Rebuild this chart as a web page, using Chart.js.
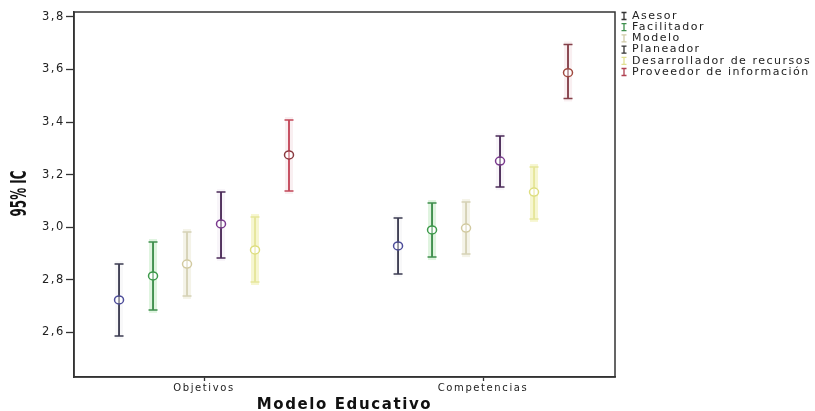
<!DOCTYPE html>
<html>
<head>
<meta charset="utf-8">
<script src="https://cdn.jsdelivr.net/npm/chart.js@4/dist/chart.umd.min.js"></script>
<style>
  html, body { margin: 0; padding: 0; background: #fff; }
  #wrap { width: 815px; height: 411px; }
</style>
</head>
<body>
<div id="wrap"><canvas id="ic95"></canvas></div>
<script>
  const categories = ['Objetivos', 'Competencias'];
  const series = ['Asesor', 'Facilitador', 'Modelo', 'Planeador', 'Desarrollador de recursos', 'Proveedor de información'];
  // media e IC 95% por serie: [Objetivos, Competencias]
  const medias = [
    [2.724, 2.929],
    [2.815, 2.990],
    [2.860, 2.997],
    [3.013, 3.252],
    [2.914, 3.134],
    [3.275, 3.588]
  ];
  const limInf = [
    [2.587, 2.822],
    [2.686, 2.887],
    [2.739, 2.898],
    [2.883, 3.153],
    [2.792, 3.032],
    [3.138, 3.490]
  ];
  const limSup = [
    [2.860, 3.035],
    [2.944, 3.092],
    [2.982, 3.096],
    [3.134, 3.347],
    [3.039, 3.229],
    [3.408, 3.695]
  ];
  const yTicks = [2.6, 2.8, 3.0, 3.2, 3.4, 3.6, 3.8];

  const lineColors = [
    ['#3d3d52', '#3d3d52'],
    ['#3f8f4d', '#3f8f4d'],
    ['#d6d2b6', '#d6d2b6'],
    ['#4b2b58', '#4b2b58'],
    ['#e6e69a', '#e6e69a'],
    ['#c4485a', '#85404a']
  ];
  const circleColors = [
    ['#4d4d9a', '#4d4d9a'],
    ['#3c9a4a', '#3c9a4a'],
    ['#d2caa0', '#d2caa0'],
    ['#7a3a8e', '#7a3a8e'],
    ['#dede80', '#dede80'],
    ['#8a3a40', '#a04a40']
  ];
  const haloColors = [
    'rgba(205,205,215,0.15)',
    'rgba(150,220,150,0.3)',
    'rgba(220,215,180,0.3)',
    'rgba(205,185,215,0.15)',
    'rgba(235,235,150,0.45)',
    'rgba(230,190,200,0.25)'
  ];
  const legendColors = ['#333', '#3f8f4d', '#cfcaa8', '#333', '#e0e090', '#b04050'];

  const errorBars = {
    id: 'errorBars',
    beforeDraw(chart) {
      chart.ctx.letterSpacing = '1.6px';
    },
    beforeDatasetsDraw(chart) {
      const { ctx, scales: { y } } = chart;
      ctx.save();
      chart.data.datasets.forEach((ds, di) => {
        chart.getDatasetMeta(di).data.forEach((bar, i) => {
          const top = y.getPixelForValue(limSup[di][i]);
          const bot = y.getPixelForValue(limInf[di][i]);
          ctx.fillStyle = haloColors[di];
          ctx.fillRect(bar.x - 4, top - 3, 8, bot - top + 6);
        });
      });
      ctx.restore();
    },
    afterDatasetsDraw(chart) {
      const { ctx, scales: { y } } = chart;
      ctx.save();
      chart.data.datasets.forEach((ds, di) => {
        chart.getDatasetMeta(di).data.forEach((bar, i) => {
          const top = y.getPixelForValue(limSup[di][i]);
          const bot = y.getPixelForValue(limInf[di][i]);
          const mid = y.getPixelForValue(medias[di][i]);
          ctx.strokeStyle = lineColors[di][i];
          ctx.lineWidth = 1.5;
          ctx.beginPath();
          ctx.moveTo(bar.x - 4.5, top); ctx.lineTo(bar.x + 4.5, top);
          ctx.moveTo(bar.x - 4.5, bot); ctx.lineTo(bar.x + 4.5, bot);
          ctx.stroke();
          ctx.fillStyle = '#fff';
          ctx.strokeStyle = circleColors[di][i];
          ctx.lineWidth = 1.5;
          ctx.beginPath();
          ctx.ellipse(bar.x, mid, 4.5, 4, 0, 0, Math.PI * 2);
          ctx.fill();
          ctx.stroke();
          ctx.strokeStyle = lineColors[di][i];
          ctx.lineWidth = 1;
          ctx.beginPath();
          ctx.moveTo(bar.x, mid - 4); ctx.lineTo(bar.x, mid + 4);
          ctx.stroke();
        });
      });
      ctx.restore();
    },
    afterDraw(chart) {
      const { ctx, chartArea: a } = chart;
      ctx.save();
      ctx.strokeStyle = '#333';
      ctx.lineWidth = 1.5;
      ctx.strokeRect(a.left, a.top, a.right - a.left, a.bottom - a.top);

      // titulo del eje Y, estrecho como en SPSS
      ctx.letterSpacing = '0px';
      ctx.font = 'bold 21px "DejaVu Sans", sans-serif';
      ctx.fillStyle = '#111';
      ctx.textAlign = 'center';
      ctx.textBaseline = 'middle';
      const t = '95% IC';
      const w = ctx.measureText(t).width;
      ctx.save();
      ctx.translate(21, (a.top + a.bottom) / 2 - 1);
      ctx.rotate(-Math.PI / 2);
      ctx.scale(46 / w, 1);
      ctx.fillText(t, 0, 0);
      ctx.restore();

      // leyenda
      ctx.letterSpacing = '1.5px';
      ctx.font = '11px "DejaVu Sans", sans-serif';
      ctx.textAlign = 'left';
      series.forEach((name, k) => {
        const yy = 16 + k * 11.2;
        const xx = 624;
        ctx.strokeStyle = legendColors[k];
        ctx.lineWidth = 1.3;
        ctx.beginPath();
        ctx.moveTo(xx - 2.5, yy - 3.5); ctx.lineTo(xx + 2.5, yy - 3.5);
        ctx.moveTo(xx, yy - 3.5); ctx.lineTo(xx, yy + 3.5);
        ctx.moveTo(xx - 2.5, yy + 3.5); ctx.lineTo(xx + 2.5, yy + 3.5);
        ctx.stroke();
        ctx.fillStyle = '#222';
        ctx.fillText(name, 632, yy);
      });
      ctx.restore();
    }
  };

  const datasets = series.map((name, di) => ({
    label: name,
    data: categories.map((c, i) => ({ x: i, y: [limInf[di][i], limSup[di][i]] })),
    backgroundColor: lineColors[di],
    borderWidth: 0,
    categoryPercentage: 0.731,
    barPercentage: 0.055
  }));

  new Chart(document.getElementById('ic95'), {
    type: 'bar',
    data: { datasets: datasets },
    options: {
      responsive: true,
      maintainAspectRatio: false,
      animation: false,
      layout: { padding: { top: 12, right: 200, left: 0, bottom: 0 } },
      plugins: {
        legend: { display: false },
        tooltip: { enabled: false }
      },
      scales: {
        x: {
          type: 'linear',
          offset: false,
          min: -0.466,
          max: 1.473,
          afterBuildTicks: (s) => { s.ticks = categories.map((c, i) => ({ value: i })); },
          afterFit: (s) => { s.height = 34; },
          ticks: {
            callback: (v) => categories[v],
            color: '#222',
            font: { family: 'DejaVu Sans', size: 10 },
            padding: 1,
            maxRotation: 0,
            autoSkip: false
          },
          grid: { offset: false, drawOnChartArea: false, tickLength: 4, color: '#333', tickWidth: 1.3 },
          border: { color: '#333', width: 1.5 },
          title: {
            display: true,
            text: 'Modelo Educativo',
            color: '#111',
            font: { family: 'DejaVu Sans', size: 15, weight: 'bold' },
            padding: { top: 0, bottom: -3 }
          }
        },
        y: {
          min: 2.4308,
          max: 3.8186,
          afterBuildTicks: (s) => { s.ticks = yTicks.map(v => ({ value: v })); },
          afterFit: (s) => { s.width = 74; },
          ticks: {
            callback: (v) => v.toFixed(1).replace('.', ','),
            color: '#222',
            font: { family: 'DejaVu Sans', size: 11.5 },
            padding: 1
          },
          grid: { drawOnChartArea: false, tickLength: 8, color: '#333', tickWidth: 1.3 },
          border: { color: '#333', width: 1.5 }
        }
      }
    },
    plugins: [errorBars]
  });
</script>
</body>
</html>
